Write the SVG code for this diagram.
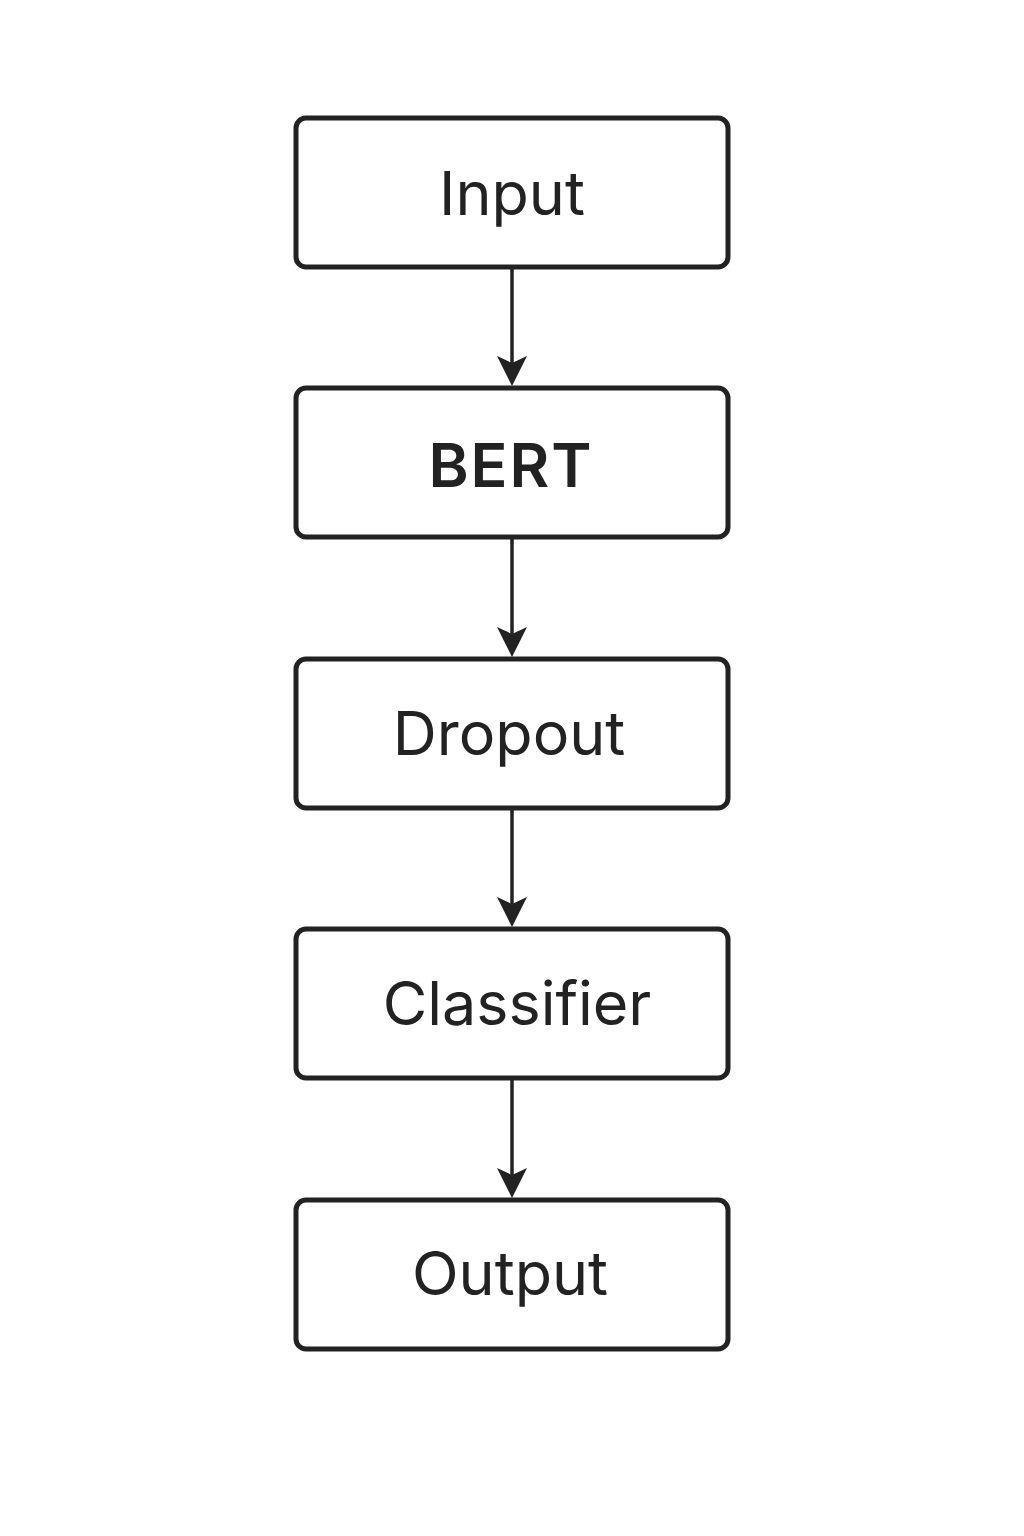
<svg xmlns="http://www.w3.org/2000/svg" width="1024" height="1536" viewBox="0 0 1024 1536">
<style>
.box{fill:#fff;stroke:#222;stroke-width:5}
.lbl{font-family:Inter,"Noto Sans","Liberation Sans",sans-serif;font-size:61px;fill:#222;text-anchor:middle}
.edge{stroke:#222;stroke-width:3.5;fill:none}
.head{fill:#222}
</style>
<rect width="1024" height="1536" fill="#fff"/>
<g id="connectors">
<line class="edge" x1="512" y1="268" x2="512" y2="370"/>
<path class="head" d="M512,386 L497,356 L512,363 L527,356 Z"/>
<line class="edge" x1="512" y1="539" x2="512" y2="641"/>
<path class="head" d="M512,657 L497,627 L512,634 L527,627 Z"/>
<line class="edge" x1="512" y1="809" x2="512" y2="911"/>
<path class="head" d="M512,927 L497,897 L512,904 L527,897 Z"/>
<line class="edge" x1="512" y1="1080" x2="512" y2="1182"/>
<path class="head" d="M512,1198 L497,1168 L512,1175 L527,1168 Z"/>
</g>
<g id="input"><rect class="box" x="296" y="118" width="432" height="149" rx="10"/><text class="lbl" x="512" y="215">Input</text></g>
<g id="bert"><rect class="box" x="296" y="388" width="432" height="149" rx="10"/><text class="lbl" x="511" y="487" font-weight="600" font-size="65" letter-spacing="2">BERT</text></g>
<g id="dropout"><rect class="box" x="296" y="659" width="432" height="149" rx="10"/><text class="lbl" x="509" y="755">Dropout</text></g>
<g id="classifier"><rect class="box" x="296" y="929" width="432" height="149" rx="10"/><text class="lbl" x="517" y="1025">Classifier</text></g>
<g id="output"><rect class="box" x="296" y="1200" width="432" height="149" rx="10"/><text class="lbl" x="510" y="1295">Output</text></g>
</svg>
